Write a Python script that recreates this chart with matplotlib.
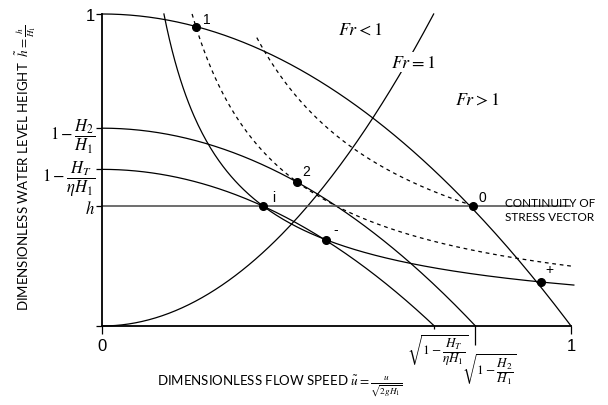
import numpy as np
import matplotlib.pyplot as plt

plt.rcParams['mathtext.fontset'] = 'stix'

# energy levels h + u^2 = c  (1, 1-H2/H1, 1-HT/(eta H1))
levels = [1.0, 0.634, 0.502]
# continuity curves h*u = q
q_solid = 0.132
q_dashed = [0.192, 0.305]
q_dashed_start = [0.192, 0.330]
q_dashed_end = [1.006, 0.791]
h_level = 0.385

pt_names = ["1", "2", "i", "0", "-", "+"]
pt_u = [0.200, 0.416, 0.343, 0.791, 0.478, 0.936]
pt_h = [0.958, 0.462, 0.385, 0.385, 0.276, 0.141]
lbl_u = [0.224, 0.435, 0.367, 0.812, 0.499, 0.953]
lbl_h = [0.984, 0.497, 0.413, 0.413, 0.311, 0.183]

ytick_vals = [0, h_level, levels[2], levels[1], 1]
ytick_lbls = ["", r"$h$", r"$1-\dfrac{H_T}{\eta H_1}$", r"$1-\dfrac{H_2}{H_1}$", "1"]

fig = plt.figure(figsize=(6.08, 4.06), dpi=100)
ax = fig.add_axes([0.1678, 0.1946, 0.7714, 0.7685])
lw = 0.9
k = 'black'

for c in levels:
    u = np.linspace(0, np.sqrt(c), 200)
    ax.plot(u, c - u**2, color=k, lw=lw, clip_on=False)

u = np.linspace(q_solid, 1.006, 300)
ax.plot(u, q_solid / u, color=k, lw=lw, clip_on=False)

for q, a, b in zip(q_dashed, q_dashed_start, q_dashed_end):
    u = np.linspace(a, b, 300)
    ax.plot(u, q / u, color=k, lw=lw, ls=(0, (3, 3)), clip_on=False)

# Fr = 1 : h = 2 u^2
u = np.linspace(0, np.sqrt(0.5), 200)
ax.plot(u, 2 * u**2, color=k, lw=lw, clip_on=False)

ax.plot([0, 0.998], [h_level, h_level], color='#555555', lw=1.2, clip_on=False)

ax.plot(pt_u, pt_h, 'o', color=k, ms=5.5, clip_on=False, zorder=5)
for n, x, y in zip(pt_names, lbl_u, lbl_h):
    ax.text(x, y, n, fontsize=10, family='Liberation Sans', ha='center', va='center')

ax.text(0.550, 0.952, r"$Fr < 1$", fontsize=13, ha='center', va='center')
ax.text(0.663, 0.846, r"$Fr = 1$", fontsize=13, ha='center', va='center',
        bbox=dict(fc='white', ec='none', pad=1))
ax.text(0.800, 0.728, r"$Fr > 1$", fontsize=13, ha='center', va='center')
ax.text(0.859, 0.372, "CONTINUITY OF\nSTRESS VECTOR", fontsize=8.5, family='Lato',
        ha='left', va='center', linespacing=1.35)

ax.set_xlim(0, 1)
ax.set_ylim(0, 1)
for s in ['top', 'right']:
    ax.spines[s].set_visible(False)
for s in ['left', 'bottom']:
    ax.spines[s].set_linewidth(1.3)

ax.set_yticks(ytick_vals)
ax.set_yticklabels(ytick_lbls, fontsize=12)
ax.get_yticklabels()[-1].set_family('Liberation Sans')
ax.tick_params(axis='y', length=4, width=0.9, pad=1)

ax.set_xticks([0, np.sqrt(levels[2]), np.sqrt(levels[1]), 1])
ax.set_xticklabels(["0", "", "", "1"], fontsize=12, family='Liberation Sans')
ax.tick_params(axis='x', length=6, width=0.9, pad=3)
ticks = ax.xaxis.get_major_ticks()
ticks[1].tick1line.set_markersize(2.5)
ticks[2].tick1line.set_markersize(13.5)
ticks[2].tick1line.set_color('#555555')
ticks[1].tick1line.set_color('#555555')

fig.text(438 / 608, 1 - 351 / 406, r"$\sqrt{1-\dfrac{H_T}{\eta H_1}}$", fontsize=9.5,
         ha='center', va='center')
fig.text(489 / 608, 1 - 370 / 406, r"$\sqrt{1-\dfrac{H_2}{H_1}}$", fontsize=9.5,
         ha='center', va='center')

fig.text(280 / 608, 1 - 386 / 406,
         r"DIMENSIONLESS FLOW SPEED $\tilde{u} = \frac{u}{\sqrt{2gH_1}}$",
         fontsize=9.5, family='Lato', ha='center', va='center')
fig.text(26 / 608, 1 - 168 / 406,
         r"DIMENSIONLESS WATER LEVEL HEIGHT  $\tilde{h} = \frac{h}{H_1}$",
         fontsize=9.5, family='Lato', ha='center', va='center', rotation=90)

fig.savefig("out.png", dpi=100)
